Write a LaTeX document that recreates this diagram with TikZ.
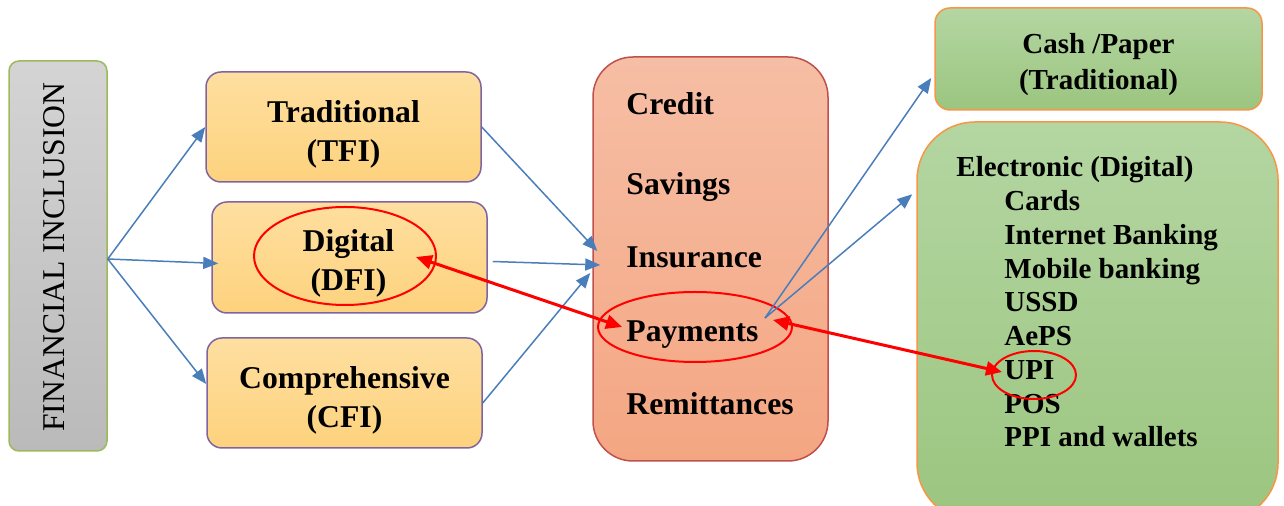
\documentclass[tikz,border=0pt]{standalone}
\usepackage{fontspec}
\setmainfont{Liberation Serif}
\usetikzlibrary{arrows.meta,shapes.geometric}
\definecolor{fitop}{RGB}{212,212,212}
\definecolor{fibot}{RGB}{186,186,186}
\definecolor{fiedge}{RGB}{155,187,89}
\definecolor{typetop}{RGB}{254,223,160}
\definecolor{typebot}{RGB}{253,210,125}
\definecolor{typeedge}{RGB}{128,100,162}
\definecolor{midtop}{RGB}{246,190,165}
\definecolor{midbot}{RGB}{244,166,130}
\definecolor{midedge}{RGB}{192,80,77}
\definecolor{modetop}{RGB}{180,214,162}
\definecolor{modebot}{RGB}{155,197,127}
\definecolor{modeedge}{RGB}{247,150,70}
\definecolor{linkblue}{RGB}{74,126,187}

\begin{document}
\begin{tikzpicture}[
    x=0.5pt, y=-0.5pt,
    box/.style={%
      draw,
      rectangle,
      line width=0.75pt,
      rounded corners=7.5pt,
    },
    fibox/.style={box, draw=fiedge, top color=fitop, bottom color=fibot,
      rounded corners=5pt, minimum width=49pt, minimum height=195pt},
    typebox/.style={box, draw=typeedge, top color=typetop, bottom color=typebot,
      minimum width=137.5pt, minimum height=55pt},
    modebox/.style={box, draw=modeedge, top color=modetop, bottom color=modebot},
    boxtext/.style={align=center, inner sep=0pt, font=\fontsize{15.85}{19.5}\selectfont\bfseries},
    smallboxtext/.style={boxtext, font=\fontsize{14.5}{18}\selectfont\bfseries},
    word/.style={anchor=base west, inner sep=0pt, font=\fontsize{15.85}{19.5}\selectfont\bfseries},
    smallword/.style={word, font=\fontsize{14.5}{18}\selectfont\bfseries},
    ring/.style={draw=red, line width=1pt, ellipse, inner sep=0pt},
    link/.style={draw=linkblue, line width=0.75pt, -{Triangle[length=7.5pt,width=6pt]}},
    redlink/.style={draw=red, line width=1.5pt,
      {Triangle[length=8pt,width=7pt]}-{Triangle[length=8pt,width=7pt]}},
  ]

    \clip (0,0) rectangle (1284,506);

    % left column
    \node [fibox] (fi) at (58,256) {};
    \node [rotate=90, font=\fontsize{15.85}{19}\selectfont] (fitext) at (54,257) {FINANCIAL INCLUSION};

    \node [typebox] (tfi) at (343.5,127) {};
    \node [typebox, minimum height=55.5pt] (dfi) at (349.5,257.5) {};
    \node [typebox] (cfi) at (344.5,393) {};
    \node [boxtext] (tfitext) at ([yshift=-3.5pt]tfi.center) {Traditional\\(TFI)};
    \node [boxtext] (dfitext) at ([xshift=-0.5pt,yshift=-3pt]dfi.center) {Digital\\(DFI)};
    \node [boxtext] (cfitext) at ([yshift=-3.5pt]cfi.center) {Comprehensive\\(CFI)};

    % services
    \node [box, draw=midedge, top color=midtop, bottom color=midbot, rounded corners=20pt,
      minimum width=117.5pt, minimum height=202pt] (mid) at (710.5,259) {};
    \foreach \entry/\ypos in {Credit/115, Savings/195, Insurance/268, Payments/342, Remittances/415}
      \node [word] (\entry) at (626,\ypos) {\entry};

    % payment modes
    \node [modebox, minimum width=163.5pt, minimum height=51pt] (cash) at (1098.5,59) {};
    \node [smallboxtext] (cashtext) at ([yshift=-3pt]cash.center) {Cash /Paper\\(Traditional)};
    \node [modebox, rounded corners=29pt, minimum width=180.5pt, minimum height=199.5pt] (elec) at (1097.5,321.5) {};
    \node [smallword] (electext) at (956,177) {Electronic (Digital)};
    \foreach \entry [count=\i] in {Cards, Internet Banking, Mobile banking, USSD, AePS, UPI, POS, PPI and wallets}
      \node [smallword] (mode\i) at (1004,{177+33.75*\i}) {\entry};

    % rings
    \node [ring, minimum width=91pt, minimum height=49pt] (dfiring) at (345,256) {};
    \node [ring, minimum width=97pt, minimum height=35pt] (payring) at (695,327) {};
    \node [ring, minimum width=42pt, minimum height=24pt] (upiring) at (1034,375) {};

    % blue links
    \draw [link] ([yshift=-1.5pt]fi.east) -- (tfi.west);
    \draw [link] ([yshift=-1.5pt]fi.east) -- ([xshift=3.5pt,yshift=-3pt]dfi.west);
    \draw [link] ([yshift=-1.5pt]fi.east) -- ([yshift=4.5pt]cfi.west);

    \draw [link] (tfi.east) -- ([xshift=2.5pt,yshift=4pt]mid.west);
    \draw [link] ([xshift=2.5pt,yshift=-2pt]dfi.east) -- ([xshift=4pt,yshift=-3pt]mid.west);
    \draw [link] ([yshift=-5pt]cfi.east) -- ([xshift=-1pt,yshift=-7pt]mid.west);

    \coordinate (payout) at (765,318);
    \draw [link] (payout) -- ([xshift=-1.5pt,yshift=-9.5pt]cash.west);
    \draw [link] (payout) -- ([xshift=-2pt,yshift=-36.5pt]elec.north west);

    % red links
    \draw [redlink] ([xshift=-10.5pt,yshift=-0.5pt]dfiring.east) -- ([xshift=12.5pt]payring.west);
    \draw [redlink] ([xshift=-10pt,yshift=3.5pt]payring.east) -- ([xshift=5.5pt,yshift=1.5pt]upiring.west);
    \end{tikzpicture}
\end{document}
